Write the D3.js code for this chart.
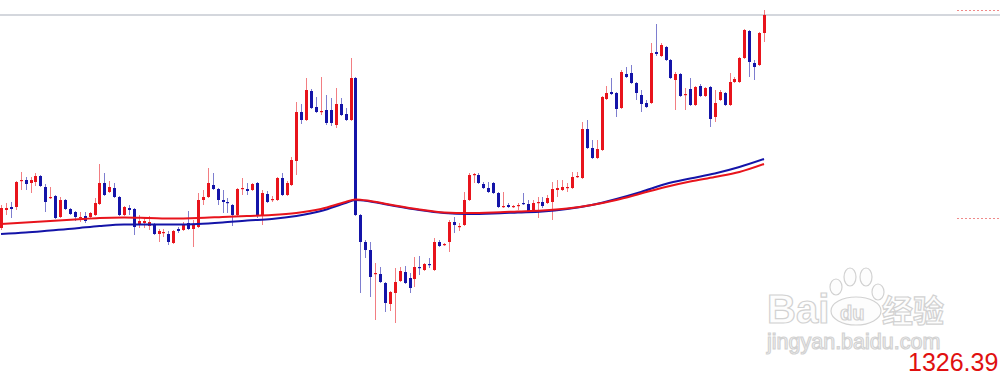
<!DOCTYPE html>
<html><head><meta charset="utf-8">
<script src="https://cdn.jsdelivr.net/npm/d3@7"></script>
<style>body{margin:0;background:#fff}svg{display:block}</style>
</head><body>
<svg id="chart" width="1000" height="375"></svg>
<script>
// OHLC (one entry per bar, left to right)
const open  = [1314.7,1316.5,1316.8,1316.8,1319.4,1319.5,1319.2,1319.3,1319.9,1318.8,1317.7,1317.9,1315.8,1317.5,1316.6,1316.3,1315.7,1315.9,1315.8,1316.0,1317.1,1319.2,1318.3,1318.7,1317.8,1316.0,1316.7,1316.6,1315.1,1315.2,1314.9,1315.1,1314.1,1314.2,1314.1,1313.2,1314.6,1314.5,1315.2,1314.6,1314.8,1317.5,1317.8,1319.0,1318.6,1317.5,1317.3,1317.0,1316.0,1318.6,1318.6,1318.5,1319.2,1316.0,1318.1,1317.5,1317.5,1319.7,1318.0,1319.0,1321.4,1326.3,1325.5,1328.4,1326.8,1326.3,1326.5,1326.5,1325.0,1327.1,1326.1,1325.5,1329.7,1316.0,1313.3,1312.5,1310.1,1310.1,1309.2,1307.1,1308.2,1309.4,1310.3,1309.7,1309.6,1310.8,1310.5,1311.1,1310.5,1313.3,1313.0,1313.3,1315.3,1314.8,1315.0,1317.5,1320.0,1320.0,1319.1,1318.7,1319.2,1318.2,1316.8,1317.0,1316.8,1316.9,1317.2,1317.1,1316.5,1317.2,1317.3,1317.2,1317.3,1318.5,1318.5,1318.7,1318.7,1319.8,1319.7,1324.6,1322.7,1321.7,1322.5,1327.6,1328.3,1328.2,1326.7,1330.1,1330.2,1329.2,1328.0,1327.2,1327.2,1332.3,1331.9,1332.8,1331.5,1329.5,1330.1,1328.0,1328.6,1327.0,1328.9,1327.9,1328.8,1325.8,1327.5,1328.2,1327.0,1329.3,1329.3,1331.7,1334.4,1331.2,1331.0,1334.2];
const high  = [1317.0,1317.2,1317.3,1319.4,1320.3,1319.8,1319.8,1320.2,1320.0,1319.1,1318.8,1318.0,1317.8,1317.6,1316.7,1316.4,1316.3,1316.3,1316.3,1317.7,1321.1,1320.2,1319.4,1319.2,1317.9,1316.9,1317.0,1316.7,1316.0,1315.8,1315.9,1315.2,1314.6,1314.6,1314.4,1314.5,1314.8,1315.3,1316.4,1315.5,1318.2,1318.5,1320.7,1320.2,1318.7,1318.5,1317.7,1317.1,1318.7,1319.7,1319.2,1319.2,1319.3,1318.5,1318.4,1317.9,1319.8,1320.2,1319.4,1321.8,1327.3,1327.1,1329.7,1328.6,1327.8,1329.8,1328.0,1327.7,1328.7,1327.7,1326.7,1331.7,1329.8,1316.1,1313.5,1313.3,1311.2,1310.8,1309.3,1308.4,1310.7,1310.8,1310.9,1310.2,1311.8,1311.9,1311.2,1311.7,1313.7,1313.5,1313.2,1315.5,1315.8,1315.2,1318.3,1320.2,1320.2,1320.2,1319.3,1319.3,1319.3,1318.3,1318.3,1317.2,1317.0,1317.2,1318.2,1317.5,1317.5,1317.8,1317.8,1318.0,1319.3,1319.5,1319.5,1319.2,1320.3,1320.3,1325.3,1325.5,1323.5,1323.5,1327.9,1328.9,1329.7,1328.3,1330.5,1330.8,1331.0,1329.3,1328.5,1327.5,1333.2,1335.1,1333.2,1332.9,1331.6,1330.3,1330.2,1328.7,1329.7,1328.9,1329.1,1328.8,1328.9,1328.5,1328.5,1328.3,1330.2,1329.8,1331.8,1334.6,1334.5,1331.5,1334.3,1336.5];
const low   = [1314.5,1316.0,1315.7,1316.5,1318.5,1318.5,1318.2,1318.9,1318.8,1316.3,1317.6,1315.6,1315.7,1316.5,1316.0,1315.4,1315.3,1315.2,1315.7,1315.9,1317.0,1317.9,1318.2,1317.7,1315.9,1315.9,1316.0,1314.0,1314.7,1314.7,1314.5,1314.0,1313.3,1313.8,1313.0,1313.1,1314.2,1314.4,1314.5,1312.8,1314.7,1317.0,1317.7,1318.5,1317.0,1316.2,1316.2,1314.9,1315.9,1318.0,1318.0,1318.4,1315.7,1315.0,1317.2,1317.3,1317.4,1317.9,1317.9,1318.9,1320.0,1325.1,1325.4,1326.6,1326.2,1326.0,1325.0,1324.9,1324.7,1325.9,1325.4,1325.4,1315.9,1308.2,1311.7,1307.8,1305.5,1309.2,1306.3,1306.4,1305.2,1309.3,1309.1,1308.2,1308.8,1310.0,1310.4,1310.7,1310.4,1312.8,1312.9,1312.3,1314.2,1314.4,1314.9,1317.4,1319.2,1319.1,1318.6,1318.2,1318.1,1316.7,1316.7,1316.7,1316.7,1316.5,1317.0,1316.3,1316.4,1315.7,1316.7,1317.1,1315.5,1317.8,1318.4,1318.3,1318.6,1319.7,1319.6,1322.6,1321.6,1321.6,1322.4,1327.5,1328.0,1325.8,1326.6,1329.7,1329.1,1327.5,1326.3,1326.7,1327.1,1331.9,1331.8,1331.4,1329.6,1326.5,1327.8,1326.5,1326.9,1326.9,1327.8,1327.8,1324.8,1325.3,1327.4,1326.9,1326.9,1329.2,1329.2,1331.6,1329.8,1329.5,1330.9,1333.3];
const close = [1316.7,1316.7,1316.6,1319.3,1319.5,1319.1,1319.5,1319.9,1318.9,1317.3,1317.8,1315.7,1317.5,1316.6,1316.1,1315.8,1315.8,1315.4,1316.2,1317.2,1319.2,1318.0,1318.8,1317.8,1316.0,1316.8,1316.5,1314.8,1315.4,1315.4,1315.3,1314.1,1314.4,1314.3,1313.3,1314.4,1314.4,1315.0,1314.6,1315.0,1317.5,1317.8,1319.2,1318.6,1317.5,1317.3,1317.2,1316.0,1318.6,1318.7,1318.4,1319.1,1316.0,1318.2,1317.3,1317.6,1319.7,1318.0,1319.2,1321.5,1326.3,1325.5,1328.5,1326.7,1326.3,1326.4,1325.2,1325.2,1327.1,1326.0,1325.5,1329.7,1316.0,1313.3,1312.5,1309.8,1310.2,1309.3,1307.2,1308.3,1309.3,1310.4,1309.2,1308.7,1310.8,1310.7,1311.1,1311.0,1313.3,1312.9,1313.1,1315.3,1315.0,1314.9,1317.5,1320.0,1320.1,1319.2,1318.7,1318.3,1318.2,1316.8,1316.9,1316.8,1316.9,1317.0,1317.1,1316.4,1317.2,1317.3,1316.9,1317.7,1318.6,1318.7,1318.8,1318.8,1319.8,1319.9,1324.6,1322.7,1321.7,1322.6,1327.8,1328.2,1328.1,1326.6,1330.3,1329.8,1329.2,1328.2,1327.1,1326.8,1332.2,1332.1,1333.0,1331.5,1329.7,1330.1,1327.9,1328.1,1327.0,1328.8,1327.9,1328.7,1325.6,1327.2,1328.3,1327.0,1329.3,1329.6,1331.7,1334.5,1331.3,1330.8,1334.2,1336.0];

// moving averages, sampled at these bar indices
const maIndex = [0,5,10,15,20,25,30,35,40,45,50,55,60,65,70,72,75,80,85,90,95,100,105,110,115,120,125,130,135,140,145,150,155];
const maBlue  = [1314.1,1314.25,1314.45,1314.65,1314.9,1315.05,1315.05,1315.05,1315.1,1315.25,1315.45,1315.6,1315.9,1316.4,1317.2,1317.5,1317.35,1316.9,1316.5,1316.2,1316.1,1316.15,1316.25,1316.35,1316.6,1317.0,1317.6,1318.3,1319.1,1319.65,1320.15,1320.8,1321.6];
const maRed   = [1315.1,1315.25,1315.4,1315.55,1315.7,1315.75,1315.7,1315.65,1315.7,1315.8,1315.9,1316.0,1316.2,1316.6,1317.3,1317.55,1317.4,1316.95,1316.55,1316.25,1316.2,1316.25,1316.35,1316.45,1316.65,1317.0,1317.5,1318.15,1318.8,1319.35,1319.8,1320.3,1321.1];

// price levels
const gridLevel = [1336.0];
const dottedLevels = [1336.5, 1315.7];
const priceLabel = "1326.39";

const W = 1000, H = 375;
const svg = d3.select("#chart");
svg.append("rect").attr("width", W).attr("height", H).attr("fill", "#fff");

const n = open.length;
const x = d3.scaleLinear().domain([0, n - 1]).range([1, 764]);
const y = d3.scaleLinear().domain([1300, 1337.5]).range([H, 0]);

const UP = "#e8141c", DOWN = "#1414a8";

// top gray line
svg.selectAll(".grid").data(gridLevel).enter().append("line")
  .attr("x1", 0).attr("x2", W).attr("y1", d => y(d)).attr("y2", d => y(d))
  .attr("stroke", "#c6cad2").attr("stroke-width", 1.5);

// dotted level lines on right
svg.selectAll(".lvl").data(dottedLevels).enter().append("line")
  .attr("x1", 957).attr("x2", W).attr("y1", d => Math.round(y(d)) + 0.5).attr("y2", d => Math.round(y(d)) + 0.5)
  .attr("stroke", "#ef8a8a").attr("stroke-width", 1).attr("stroke-dasharray", "2,2");

// watermark
const wm = svg.append("g").attr("fill", "#fdfdfd").attr("stroke", "#d2d2d2").attr("stroke-width", 1.2);
wm.append("text").attr("x", 767).attr("y", 323).attr("font-family", "Liberation Sans, Arial, sans-serif")
  .attr("font-weight", "bold").attr("font-size", 40).text("Bai");
const paw = [[836, 287, 6, 8], [850, 277, 6, 9], [866, 277, 6, 9], [878, 292, 6, 8]];
paw.forEach(p => wm.append("ellipse").attr("cx", p[0]).attr("cy", p[1]).attr("rx", p[2]).attr("ry", p[3]));
wm.append("ellipse").attr("cx", 856).attr("cy", 311).attr("rx", 25).attr("ry", 14);
wm.append("text").attr("x", 840).attr("y", 320).attr("font-family", "Liberation Sans, Arial, sans-serif")
  .attr("font-weight", "bold").attr("font-size", 20).text("du");
wm.append("text").attr("x", 882).attr("y", 322).attr("font-family", "Noto Sans CJK SC, sans-serif")
  .attr("font-weight", "bold").attr("font-size", 31).text("经验");
wm.append("text").attr("x", 767).attr("y", 349).attr("font-family", "Liberation Sans, Arial, sans-serif")
  .attr("font-size", 21.5).text("jingyan.baidu.com");

// candles
const idx = d3.range(n);
const g = svg.append("g");
g.selectAll(".wick").data(idx).enter().append("line")
  .attr("x1", i => Math.round(x(i)) + 0.5).attr("x2", i => Math.round(x(i)) + 0.5)
  .attr("y1", i => y(high[i])).attr("y2", i => y(low[i]))
  .attr("stroke", i => close[i] >= open[i] ? UP : DOWN).attr("stroke-opacity", 0.55).attr("stroke-width", 1);
g.selectAll(".body").data(idx).enter().append("rect")
  .attr("x", i => Math.round(x(i)) - 1).attr("width", 3)
  .attr("y", i => y(Math.max(open[i], close[i])))
  .attr("height", i => Math.max(1.2, Math.abs(y(open[i]) - y(close[i]))))
  .attr("fill", i => close[i] >= open[i] ? UP : DOWN);

// moving averages
const line = (vals) => d3.line().x((d, k) => x(maIndex[k])).y(d => y(d)).curve(d3.curveMonotoneX)(vals);
svg.append("path").attr("d", line(maBlue)).attr("fill", "none").attr("stroke", DOWN).attr("stroke-width", 2);
svg.append("path").attr("d", line(maRed)).attr("fill", "none").attr("stroke", UP).attr("stroke-width", 2);

// price label
svg.append("text").attr("x", 908).attr("y", 371).attr("font-family", "Liberation Sans, Arial, sans-serif")
  .attr("font-size", 25).attr("fill", "#e01010").text(priceLabel);
</script>
</body></html>
